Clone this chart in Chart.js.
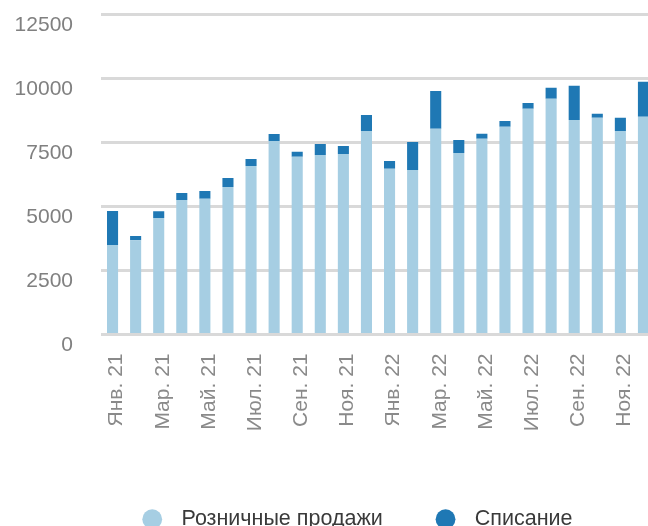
<!DOCTYPE html>
<html>
<head>
<meta charset="utf-8">
<script src="https://cdn.jsdelivr.net/npm/chart.js@4.4.1/dist/chart.umd.min.js"></script>
<style>
  html, body { margin: 0; padding: 0; background: #ffffff; overflow: hidden; }
  #wrap { width: 714px; height: 540px; }
</style>
</head>
<body>
<div id="wrap"><canvas id="c" width="714" height="540"></canvas></div>
<script>
const months = ['Янв. 21','Фев. 21','Мар. 21','Апр. 21','Май. 21','Июн. 21','Июл. 21','Авг. 21','Сен. 21','Окт. 21','Ноя. 21','Дек. 21',
                'Янв. 22','Фев. 22','Мар. 22','Апр. 22','Май. 22','Июн. 22','Июл. 22','Авг. 22','Сен. 22','Окт. 22','Ноя. 22','Дек. 22'];
const retailSales = [3490, 3680, 4540, 5250, 5290, 5750, 6570, 7550, 6930, 7000, 7040, 7940,
                     6460, 6420, 8020, 7080, 7630, 8100, 8800, 9190, 8370, 8450, 7940, 8490];
const writeOffs   = [1330, 160, 270, 270, 310, 350, 270, 270, 200, 430, 310, 620,
                     310, 1090, 1480, 510, 200, 230, 230, 430, 1330, 160, 510, 1370];
const yTicks = [0, 2500, 5000, 7500, 10000, 12500];
const seriesNames = ['Розничные продажи', 'Списание'];

const FONT = '"Liberation Sans", Arial, sans-serif';

new Chart(document.getElementById('c'), {
  type: 'bar',
  data: {
    labels: months,
    datasets: [
      { label: seriesNames[0], data: retailSales, backgroundColor: '#a6cee3', borderWidth: 0 },
      { label: seriesNames[1], data: writeOffs, backgroundColor: '#1f78b4', borderWidth: 0 }
    ]
  },
  options: {
    responsive: false,
    animation: false,
    layout: { padding: { left: 0, right: 0, top: 14, bottom: 0 } },
    datasets: { bar: { barPercentage: 0.48, categoryPercentage: 1 } },
    scales: {
      x: {
        stacked: true,
        grid: { display: false },
        border: { display: false },
        ticks: {
          autoSkip: false,
          maxRotation: 90,
          minRotation: 90,
          padding: 11,
          labelOffset: 4,
          color: '#8a8a8a',
          font: { family: FONT, size: 21 },
          callback: function(v, i) { return i % 2 === 0 ? months[i] : ''; }
        },
        afterFit: function(s) { s.height = 122; }
      },
      y: {
        stacked: true,
        position: 'left',
        min: yTicks[0],
        max: yTicks[yTicks.length - 1],
        afterBuildTicks: function(s) { s.ticks = yTicks.map(v => ({ value: v })); },
        grid: { color: '#d9d9d9', lineWidth: 3, drawTicks: true, tickLength: 28, tickColor: 'rgba(0,0,0,0)' },
        border: { display: false },
        ticks: {
          padding: 0,
          labelOffset: 11,
          color: '#808080',
          font: { family: FONT, size: 21 },
          callback: function(v) { return String(v); }
        },
        afterFit: function(s) { s.width = 101; }
      },
      yRightSpace: {
        type: 'linear',
        position: 'right',
        display: true,
        grid: { display: false },
        border: { display: false },
        ticks: { display: false },
        afterFit: function(s) { s.width = 59; }
      }
    },
    plugins: {
      tooltip: { enabled: false },
      legend: {
        position: 'bottom',
        align: 'center',
        labels: {
          usePointStyle: true,
          pointStyle: 'circle',
          boxWidth: 22,
          boxHeight: 14,
          padding: 52,
          color: '#3a3a3a',
          font: { family: FONT, size: 21.5 },
          generateLabels: function(chart) {
            const items = Chart.defaults.plugins.legend.labels.generateLabels(chart);
            items.forEach(it => { it.text = ' \u200A' + it.text; it.lineWidth = 0; it.strokeStyle = 'rgba(0,0,0,0)'; });
            return items;
          }
        }
      }
    }
  }
});
</script>
</body>
</html>
